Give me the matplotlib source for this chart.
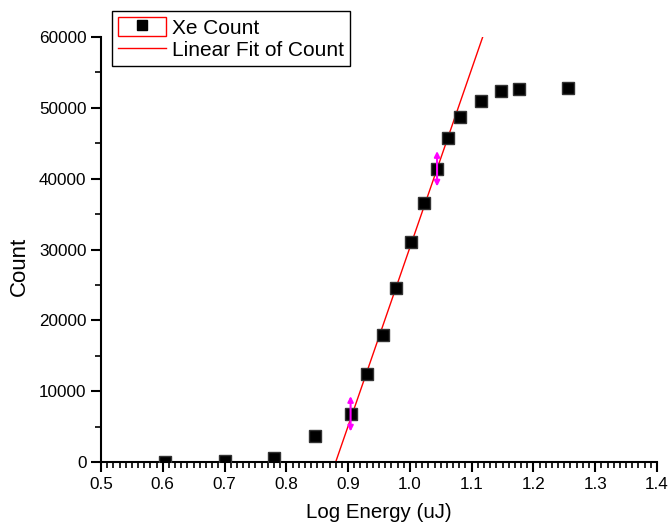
"""
Conteggio Xe in funzione dell'energia (scala log) con fit lineare della salita.
"""
import matplotlib
matplotlib.use("Agg")
import matplotlib.pyplot as plt
import numpy as np
from matplotlib.patches import Rectangle
from matplotlib.lines import Line2D
from matplotlib.legend_handler import HandlerTuple
from matplotlib.ticker import MultipleLocator, FormatStrFormatter

plt.rcParams["font.family"] = ["Liberation Sans", "DejaVu Sans"]

# dati
log_energy = [0.603, 0.700, 0.780, 0.846, 0.904, 0.930, 0.956, 0.977, 1.002,
              1.023, 1.044, 1.062, 1.081, 1.115, 1.148, 1.177, 1.256]
count = [50, 150, 550, 3700, 6800, 12400, 17900, 24600, 31100,
         36600, 41400, 45700, 48700, 51000, 52400, 52700, 52800]
fit_idx = [4, 5, 6, 7, 8, 9, 10, 11]      # punti usati per il fit lineare
arrow_idx = [4, 10]                        # punti con le frecce magenta
arrow_half = 2500

x = np.asarray(log_energy)
y = np.asarray(count)
slope, icpt = np.polyfit(x[fit_idx], y[fit_idx], 1)
y_fit = np.array([0, 60000])
x_fit = (y_fit - icpt) / slope

fig = plt.figure(figsize=(6.69, 5.22), dpi=100)
ax = fig.add_axes([0.151, 0.115, 0.831, 0.814])

ax.plot(x_fit, y_fit, color="red", linewidth=1.0, zorder=2)
ax.plot(x, y, "s", color="black", markersize=8, markeredgecolor="#333333",
        linestyle="none", zorder=3)
for i in arrow_idx:
    ax.annotate("", xy=(x[i], y[i] + arrow_half), xytext=(x[i], y[i] - arrow_half),
                arrowprops=dict(arrowstyle="<|-|>", color="magenta", lw=1.5,
                                mutation_scale=8, shrinkA=0, shrinkB=0), zorder=4)

ax.set_xlim(0.5, 1.4)
ax.set_ylim(0, 60000)
ax.xaxis.set_major_locator(MultipleLocator(0.1))
ax.xaxis.set_minor_locator(MultipleLocator(0.01))
ax.yaxis.set_major_locator(MultipleLocator(10000))
ax.yaxis.set_minor_locator(MultipleLocator(5000))
ax.xaxis.set_major_formatter(FormatStrFormatter("%.1f"))
ax.spines["top"].set_visible(False)
ax.spines["right"].set_visible(False)
for s in ("left", "bottom"):
    ax.spines[s].set_linewidth(1.5)
ax.tick_params(which="major", direction="out", length=7, width=1.5, labelsize=12.3)
ax.tick_params(which="minor", direction="out", length=4, width=1.2)
ax.set_xlabel("Log Energy (uJ)", fontsize=14.8, labelpad=8.5)
ax.set_ylabel("Count", fontsize=16)
ax.yaxis.set_label_coords(-0.128, 0.461)

box = Rectangle((0, 0), 1, 1, facecolor="white", edgecolor="red", linewidth=1)
mk = Line2D([], [], marker="s", color="black", markersize=7, linestyle="none")
fit_h = Line2D([], [], color="red", linewidth=1)
leg = fig.legend([(box, mk), fit_h], ["Xe Count", "Linear Fit of Count"],
                 handler_map={tuple: HandlerTuple(ndivide=1, pad=0)},
                 loc="upper left", bbox_to_anchor=(0.167, 0.979), fontsize=15,
                 frameon=True, fancybox=False, edgecolor="black", framealpha=1,
                 borderpad=0.3, labelspacing=0.08, handlelength=2.3,
                 handleheight=1.0, handletextpad=0.3, borderaxespad=0)
leg.get_frame().set_linewidth(1.0)

fig.savefig("out.png", dpi=100)
plt.close(fig)
